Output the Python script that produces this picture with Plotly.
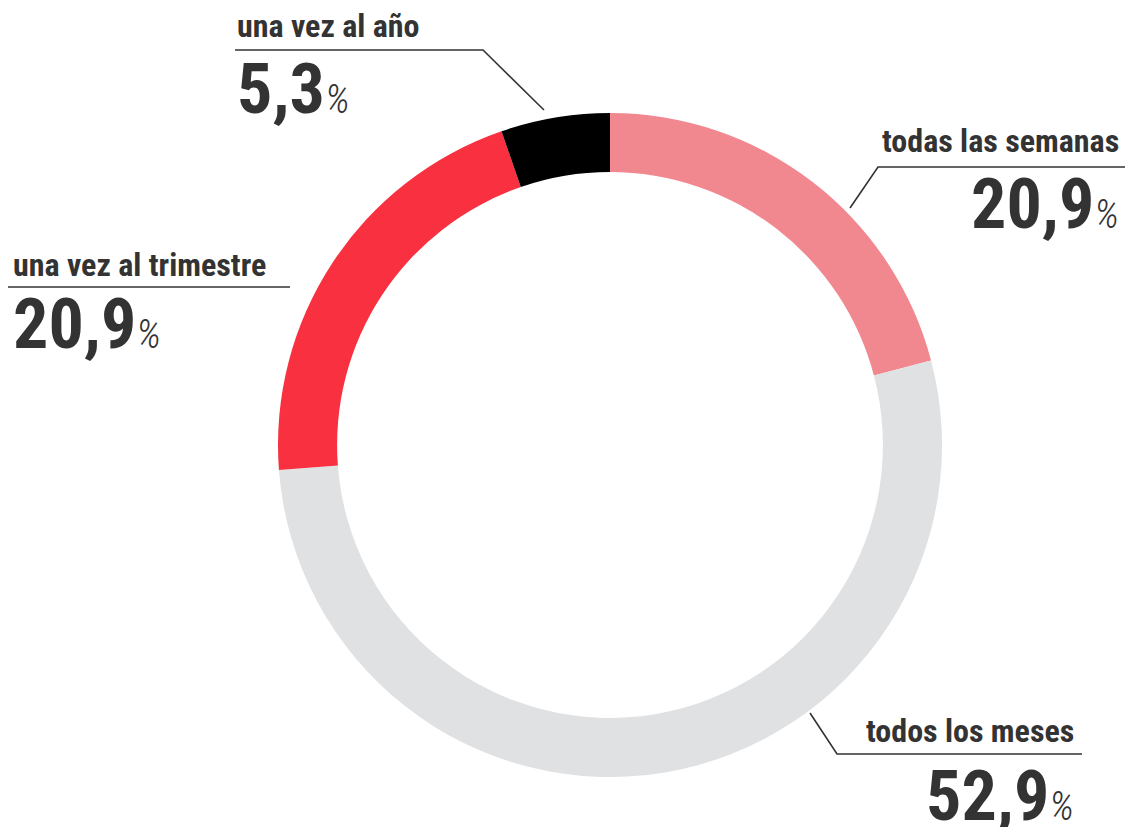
import plotly.graph_objects as go

labels = ["todas las semanas", "todos los meses", "una vez al trimestre", "una vez al año"]
values = [20.9, 52.9, 20.9, 5.3]
value_text = ["20,9", "52,9", "20,9", "5,3"]
colors = ["#f1878f", "#e0e1e3", "#f8303f", "#000000"]

W, H = 1132, 827
FONT = "Roboto Condensed, Liberation Sans Narrow, Roboto, sans-serif"
TXT = "#333333"


def px(x):
    return x / W


def py(y):
    return 1 - y / H


fig = go.Figure()
fig.add_trace(go.Pie(
    labels=labels, values=values, sort=False, direction="clockwise", rotation=0,
    hole=0.822, marker=dict(colors=colors, line=dict(width=0)),
    textinfo="none", hoverinfo="label+value", showlegend=False,
    domain=dict(x=[px(278), px(942)], y=[py(777), py(113)]),
))

leaders = [
    [(1125, 167), (878, 167), (850, 208)],
    [(1082, 754), (837, 754), (810, 713)],
    [(8, 287), (290, 287)],
    [(235, 50), (483, 50), (544, 110)],
]
shapes = []
for pts in leaders:
    path = "M " + " L ".join(f"{px(x)},{py(y)}" for x, y in pts)
    shapes.append(dict(type="path", xref="paper", yref="paper", path=path,
                       line=dict(color=TXT, width=1.6)))

place = [
    (1121, "right", 141, 204),
    (1076, "right", 731, 796),
    (11, "left", 265, 324),
    (235, "left", 26, 89),
]
annotations = []
for i, (x, anc, ly, ny) in enumerate(place):
    annotations.append(dict(
        x=px(x), y=py(ly), xref="paper", yref="paper", xanchor=anc, yanchor="middle",
        text=f"<b>{labels[i]}</b>", showarrow=False,
        font=dict(family=FONT, size=32, color=TXT)))
    annotations.append(dict(
        x=px(x), y=py(ny), xref="paper", yref="paper", xanchor=anc, yanchor="middle",
        text=(f"<b>{value_text[i]}</b>"
              "<span style='font-size:40px;font-weight:300'><i>%</i></span>"),
        showarrow=False, font=dict(family=FONT, size=70, color=TXT)))

fig.update_layout(
    width=W, height=H, margin=dict(l=0, r=0, t=0, b=0),
    paper_bgcolor="white", plot_bgcolor="white",
    shapes=shapes, annotations=annotations,
)
fig.write_html("out.html", config={"displayModeBar": False},
               post_script="document.body.style.margin='0px';")
